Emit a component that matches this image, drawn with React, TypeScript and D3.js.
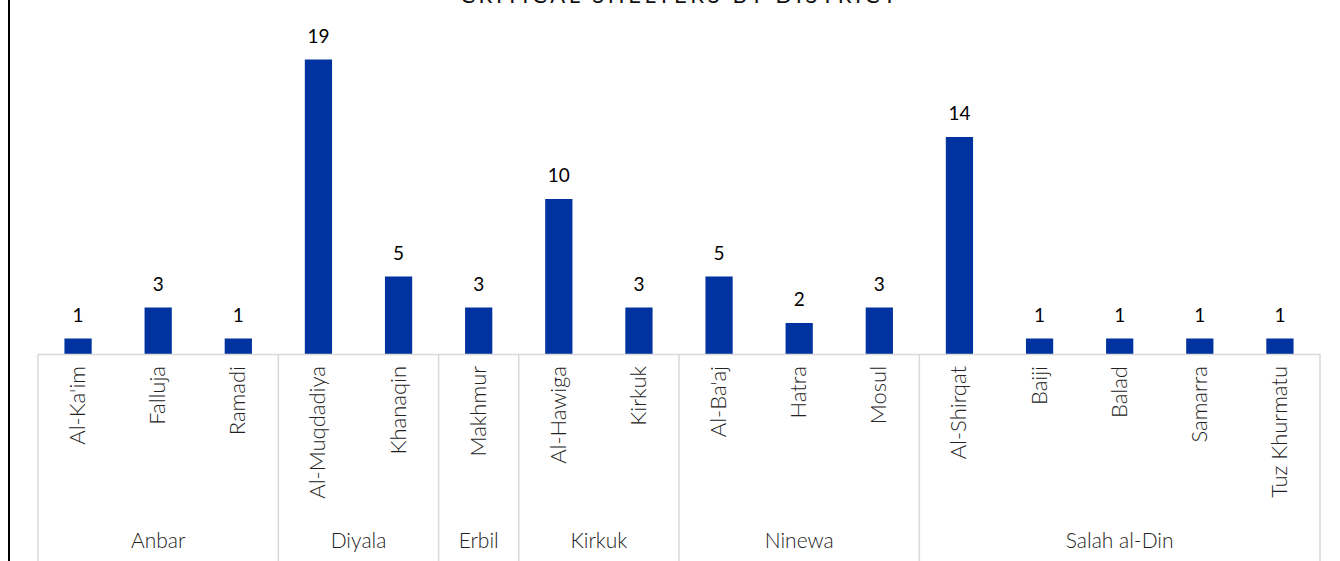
import React from "react";
import * as d3 from "d3";

const districts = ["Al-Ka'im", "Falluja", "Ramadi", "Al-Muqdadiya", "Khanaqin", "Makhmur", "Al-Hawiga", "Kirkuk", "Al-Ba'aj", "Hatra", "Mosul", "Al-Shirqat", "Baiji", "Balad", "Samarra", "Tuz Khurmatu"];
const governorates = ["Anbar", "Anbar", "Anbar", "Diyala", "Diyala", "Erbil", "Kirkuk", "Kirkuk", "Ninewa", "Ninewa", "Ninewa", "Salah al-Din", "Salah al-Din", "Salah al-Din", "Salah al-Din", "Salah al-Din"];
const shelters = [1, 3, 1, 19, 5, 3, 10, 3, 5, 2, 3, 14, 1, 1, 1, 1];
const title = "CRITICAL SHELTERS BY DISTRICT";

const W = 1340, H = 561;
const left = 38, right = 1320, baseY = 354, topY = 44;
const FONT = "Lato, 'Open Sans', sans-serif";

export default function App() {
  const x = d3.scaleBand<string>().domain(districts).range([left, right]).paddingInner(0.66).paddingOuter(0.33);
  const y = d3.scaleLinear().domain([0, 20]).range([baseY, topY]);

  const groups: { name: string; start: number; end: number }[] = [];
  governorates.forEach((g, i) => {
    const last = groups[groups.length - 1];
    if (last && last.name === g) last.end = i;
    else groups.push({ name: g, start: i, end: i });
  });
  const step = x.step();
  const edge = (i: number) => left + i * step;

  return (
    <svg width={W} height={H} style={{ position: "absolute", left: 0, top: 0, background: "#fff" }} fontFamily={FONT}>
      <line x1={9} x2={9} y1={0} y2={H} stroke="#000" strokeWidth={2} />
      <text x={680} y={3} textAnchor="middle" fontSize={22} letterSpacing={3.6} fontWeight={400} fill="#111">{title}</text>
      {shelters.map((v, i) => (
        <g key={districts[i]}>
          <rect x={x(districts[i])} y={y(v)} width={x.bandwidth()} height={baseY - y(v)} fill="#0033a0" />
          <text x={(x(districts[i]) as number) + x.bandwidth() / 2} y={y(v) - 17} textAnchor="middle" fontSize={19} fill="#000">{v}</text>
          <text transform={`translate(${(x(districts[i]) as number) + x.bandwidth() / 2 + 7},366) rotate(-90)`} textAnchor="end" fontSize={22} fontWeight={300} fill="#222">{districts[i]}</text>
        </g>
      ))}
      <line x1={left} x2={right} y1={baseY + 0.5} y2={baseY + 0.5} stroke="#d9d9d9" strokeWidth={1.5} />
      {groups.map((g) => (
        <g key={g.name}>
          <line x1={edge(g.start)} x2={edge(g.start)} y1={baseY} y2={H} stroke="#d9d9d9" strokeWidth={1.5} />
          <text x={(edge(g.start) + edge(g.end + 1)) / 2} y={548} textAnchor="middle" fontSize={21} fontWeight={300} fill="#222">{g.name}</text>
        </g>
      ))}
      <line x1={right} x2={right} y1={baseY} y2={H} stroke="#d9d9d9" strokeWidth={1.5} />
    </svg>
  );
}
